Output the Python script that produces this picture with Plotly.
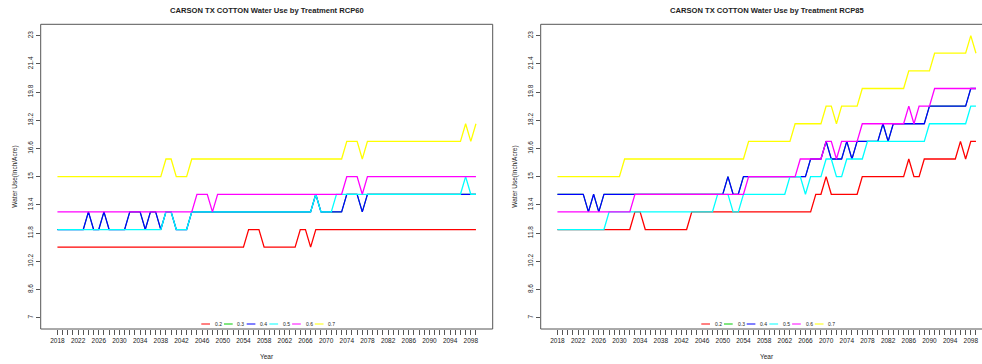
import plotly.graph_objects as go

years = list(range(2018, 2100))
year_labels = list(range(2018, 2100, 4))
y_ticks = [7, 8.6, 10.2, 11.8, 13.4, 15, 16.6, 18.2, 19.8, 21.4, 23]
treatments = ["0.2", "0.3", "0.4", "0.5", "0.6", "0.7"]
colors = ["#FF0000", "#00CC00", "#0000FF", "#00FFFF", "#FF00FF", "#FFFF00"]

# RCP60 (left panel), one value per year 2018..2099
red_60 = [11, 11, 11, 11, 11, 11, 11, 11, 11, 11,
          11, 11, 11, 11, 11, 11, 11, 11, 11, 11,
          11, 11, 11, 11, 11, 11, 11, 11, 11, 11,
          11, 11, 11, 11, 11, 11, 11, 12, 12, 12,
          11, 11, 11, 11, 11, 11, 11, 12, 12, 11,
          12, 12, 12, 12, 12, 12, 12, 12, 12, 12,
          12, 12, 12, 12, 12, 12, 12, 12, 12, 12,
          12, 12, 12, 12, 12, 12, 12, 12, 12, 12,
          12, 12]
green_60 = [12, 12, 12, 12, 12, 12, 13, 12, 12, 13,
            12, 12, 12, 12, 13, 13, 13, 12, 13, 13,
            12, 13, 13, 12, 12, 12, 13, 13, 13, 13,
            13, 13, 13, 13, 13, 13, 13, 13, 13, 13,
            13, 13, 13, 13, 13, 13, 13, 13, 13, 13,
            14, 13, 13, 13, 13, 13, 14, 14, 14, 13,
            14, 14, 14, 14, 14, 14, 14, 14, 14, 14,
            14, 14, 14, 14, 14, 14, 14, 14, 14, 14,
            14, 14]
blue_60 = [12, 12, 12, 12, 12, 12, 13, 12, 12, 13,
           12, 12, 12, 12, 13, 13, 13, 12, 13, 13,
           12, 13, 13, 12, 12, 12, 13, 13, 13, 13,
           13, 13, 13, 13, 13, 13, 13, 13, 13, 13,
           13, 13, 13, 13, 13, 13, 13, 13, 13, 13,
           14, 13, 13, 13, 13, 13, 14, 14, 14, 13,
           14, 14, 14, 14, 14, 14, 14, 14, 14, 14,
           14, 14, 14, 14, 14, 14, 14, 14, 14, 14,
           14, 14]
cyan_60 = [12, 12, 12, 12, 12, 12, 12, 12, 12, 12,
           12, 12, 12, 12, 12, 12, 12, 12, 12, 12,
           12, 13, 13, 12, 12, 12, 13, 13, 13, 13,
           13, 13, 13, 13, 13, 13, 13, 13, 13, 13,
           13, 13, 13, 13, 13, 13, 13, 13, 13, 13,
           14, 13, 13, 13, 14, 14, 14, 14, 14, 14,
           14, 14, 14, 14, 14, 14, 14, 14, 14, 14,
           14, 14, 14, 14, 14, 14, 14, 14, 14, 15,
           14, 14]
magenta_60 = [13, 13, 13, 13, 13, 13, 13, 13, 13, 13,
              13, 13, 13, 13, 13, 13, 13, 13, 13, 13,
              13, 13, 13, 13, 13, 13, 13, 14, 14, 14,
              13, 14, 14, 14, 14, 14, 14, 14, 14, 14,
              14, 14, 14, 14, 14, 14, 14, 14, 14, 14,
              14, 14, 14, 14, 14, 14, 15, 15, 15, 14,
              15, 15, 15, 15, 15, 15, 15, 15, 15, 15,
              15, 15, 15, 15, 15, 15, 15, 15, 15, 15,
              15, 15]
yellow_60 = [15, 15, 15, 15, 15, 15, 15, 15, 15, 15,
             15, 15, 15, 15, 15, 15, 15, 15, 15, 15,
             15, 16, 16, 15, 15, 15, 16, 16, 16, 16,
             16, 16, 16, 16, 16, 16, 16, 16, 16, 16,
             16, 16, 16, 16, 16, 16, 16, 16, 16, 16,
             16, 16, 16, 16, 16, 16, 17, 17, 17, 16,
             17, 17, 17, 17, 17, 17, 17, 17, 17, 17,
             17, 17, 17, 17, 17, 17, 17, 17, 17, 18,
             17, 18]

# RCP85 (right panel)
red_85 = [12, 12, 12, 12, 12, 12, 12, 12, 12, 12,
          12, 12, 12, 12, 12, 13, 13, 12, 12, 12,
          12, 12, 12, 12, 12, 12, 13, 13, 13, 13,
          13, 13, 13, 13, 13, 13, 13, 13, 13, 13,
          13, 13, 13, 13, 13, 13, 13, 13, 13, 13,
          14, 14, 15, 14, 14, 14, 14, 14, 14, 15,
          15, 15, 15, 15, 15, 15, 15, 15, 16, 15,
          15, 16, 16, 16, 16, 16, 16, 16, 17, 16,
          17, 17]
green_85 = [14, 14, 14, 14, 14, 14, 13, 14, 13, 14,
            14, 14, 14, 14, 14, 14, 14, 14, 14, 14,
            14, 14, 14, 14, 14, 14, 14, 14, 14, 14,
            14, 14, 14, 15, 14, 14, 15, 15, 15, 15,
            15, 15, 15, 15, 15, 15, 15, 15, 15, 16,
            16, 16, 17, 16, 16, 16, 17, 16, 17, 17,
            17, 17, 17, 18, 17, 18, 18, 18, 18, 18,
            18, 18, 19, 19, 19, 19, 19, 19, 19, 19,
            20, 20]
blue_85 = [14, 14, 14, 14, 14, 14, 13, 14, 13, 14,
           14, 14, 14, 14, 14, 14, 14, 14, 14, 14,
           14, 14, 14, 14, 14, 14, 14, 14, 14, 14,
           14, 14, 14, 15, 14, 14, 15, 15, 15, 15,
           15, 15, 15, 15, 15, 15, 15, 15, 15, 16,
           16, 16, 17, 16, 16, 16, 17, 16, 17, 17,
           17, 17, 17, 18, 17, 18, 18, 18, 18, 18,
           18, 18, 19, 19, 19, 19, 19, 19, 19, 19,
           20, 20]
cyan_85 = [12, 12, 12, 12, 12, 12, 12, 12, 12, 12,
           13, 13, 13, 13, 13, 13, 13, 13, 13, 13,
           13, 13, 13, 13, 13, 13, 13, 13, 13, 13,
           13, 14, 14, 14, 13, 13, 14, 14, 14, 14,
           14, 14, 14, 14, 14, 15, 15, 15, 14, 15,
           15, 15, 16, 16, 15, 15, 16, 16, 16, 16,
           17, 17, 17, 17, 17, 17, 17, 17, 17, 17,
           17, 17, 18, 18, 18, 18, 18, 18, 18, 18,
           19, 19]
magenta_85 = [13, 13, 13, 13, 13, 13, 13, 13, 13, 13,
              13, 13, 13, 13, 13, 14, 14, 14, 14, 14,
              14, 14, 14, 14, 14, 14, 14, 14, 14, 14,
              14, 14, 14, 14, 14, 14, 14, 15, 15, 15,
              15, 15, 15, 15, 15, 15, 15, 16, 16, 16,
              16, 16, 17, 17, 16, 17, 17, 17, 17, 18,
              18, 18, 18, 18, 18, 18, 18, 18, 19, 18,
              19, 19, 19, 20, 20, 20, 20, 20, 20, 20,
              20, 20]
yellow_85 = [15, 15, 15, 15, 15, 15, 15, 15, 15, 15,
             15, 15, 15, 16, 16, 16, 16, 16, 16, 16,
             16, 16, 16, 16, 16, 16, 16, 16, 16, 16,
             16, 16, 16, 16, 16, 16, 16, 17, 17, 17,
             17, 17, 17, 17, 17, 17, 18, 18, 18, 18,
             18, 18, 19, 19, 18, 19, 19, 19, 19, 20,
             20, 20, 20, 20, 20, 20, 20, 20, 21, 21,
             21, 21, 21, 22, 22, 22, 22, 22, 22, 22,
             23, 22]

panels = [
    ("CARSON TX COTTON Water Use by Treatment RCP60",
     [red_60, green_60, blue_60, cyan_60, magenta_60, yellow_60]),
    ("CARSON TX COTTON Water Use by Treatment RCP85",
     [red_85, green_85, blue_85, cyan_85, magenta_85, yellow_85]),
]

W, H = 982, 364
FONT = "Liberation Sans, Arial, sans-serif"
AX = "#555555"
TXT = "#222222"


def px(x):
    return x / W


def py(y):
    return 1 - y / H


# plot boxes in pixels (R-style, second panel runs past the right edge)
box_left = [40.7, 540.7]
box_w = 452.0
box_top, box_bot = 24.3, 329.0

# R default 4% padding on both axes
x_pad = 0.04 * (years[-1] - years[0])
x_lo, x_hi = years[0] - x_pad, years[-1] + x_pad
y_pad = 0.04 * (y_ticks[-1] - y_ticks[0])
y_lo, y_hi = y_ticks[0] - y_pad, y_ticks[-1] + y_pad

fig = go.Figure()
shapes = []
annotations = []

for p, (title, series) in enumerate(panels):
    xa = "x" if p == 0 else "x2"
    ya = "y" if p == 0 else "y2"
    for name, vals, col in zip(treatments, series, colors):
        # 0.3 lies under 0.4 everywhere; keep it thin so it does not tint the blue
        lw = 1.0 if name == "0.3" else 1.3
        fig.add_trace(go.Scatter(x=years, y=vals, mode="lines", name=name,
                                 line=dict(color=col, width=lw),
                                 xaxis=xa, yaxis=ya, showlegend=False,
                                 hoverinfo="x+y+name"))

    bl = box_left[p]
    br = bl + box_w
    vis_r = min(br, W)
    hi = x_lo + (vis_r - bl) / box_w * (x_hi - x_lo)
    key = "" if p == 0 else "2"
    fig.layout["xaxis" + key] = dict(
        domain=[px(bl), px(vis_r)], range=[x_lo, hi], anchor=ya,
        tickvals=years,
        ticktext=[str(y) if y in year_labels else "" for y in years],
        ticks="outside", ticklen=5, tickcolor=AX, tickwidth=1,
        showgrid=False, zeroline=False, showline=False,
        tickfont=dict(size=6.5, color=TXT, family=FONT), tickangle=0)
    fig.layout["yaxis" + key] = dict(
        domain=[py(box_bot), py(box_top)], range=[y_lo, y_hi], anchor=xa,
        tickvals=y_ticks, ticktext=[f"{v:g}" for v in y_ticks],
        ticks="outside", ticklen=4, tickcolor=AX, tickwidth=1,
        showgrid=False, zeroline=False, showline=False,
        tickfont=dict(size=6.5, color=TXT, family=FONT), tickangle=-90)

    shapes.append(dict(type="rect", xref="paper", yref="paper",
                       x0=px(bl), x1=px(br), y0=py(box_bot), y1=py(box_top),
                       line=dict(color=AX, width=1), layer="above"))

    cx = bl + box_w / 2
    annotations.append(dict(text="<b>" + title + "</b>", x=px(cx), y=py(10),
                            xref="paper", yref="paper", showarrow=False,
                            xanchor="center", yanchor="middle",
                            font=dict(size=7.6, color=TXT, family=FONT)))
    annotations.append(dict(text="Year", x=px(cx), y=py(356),
                            xref="paper", yref="paper", showarrow=False,
                            xanchor="center", yanchor="middle",
                            font=dict(size=6.5, color=TXT, family=FONT)))
    annotations.append(dict(text="Water Use(Inch/Acre)", x=px(bl - 25.7),
                            y=py((box_top + box_bot) / 2),
                            xref="paper", yref="paper", showarrow=False,
                            textangle=-90, xanchor="center", yanchor="middle",
                            font=dict(size=6.5, color=TXT, family=FONT)))

    # R-style horizontal legend without a box
    lx = cx - 65.4
    for i, (name, col) in enumerate(zip(treatments, colors)):
        x0 = lx + i * 22.7
        shapes.append(dict(type="line", xref="paper", yref="paper",
                           x0=px(x0), x1=px(x0 + 8.7), y0=py(324), y1=py(324),
                           line=dict(color=col, width=1)))
        annotations.append(dict(text=name, x=px(x0 + 11.5), y=py(324),
                                xref="paper", yref="paper", showarrow=False,
                                xanchor="left", yanchor="middle",
                                font=dict(size=5, color=TXT, family=FONT)))

fig.update_layout(width=W, height=H, margin=dict(l=0, r=0, t=0, b=0),
                  paper_bgcolor="white", plot_bgcolor="white",
                  shapes=shapes, annotations=annotations,
                  font=dict(family=FONT, color=TXT), showlegend=False)

# the page's default body margin would shift the whole figure by 8px
fig.write_html("out.html", config={"displayModeBar": False},
               post_script="document.body.style.margin='0px';"
                           "document.body.style.overflow='hidden';")
